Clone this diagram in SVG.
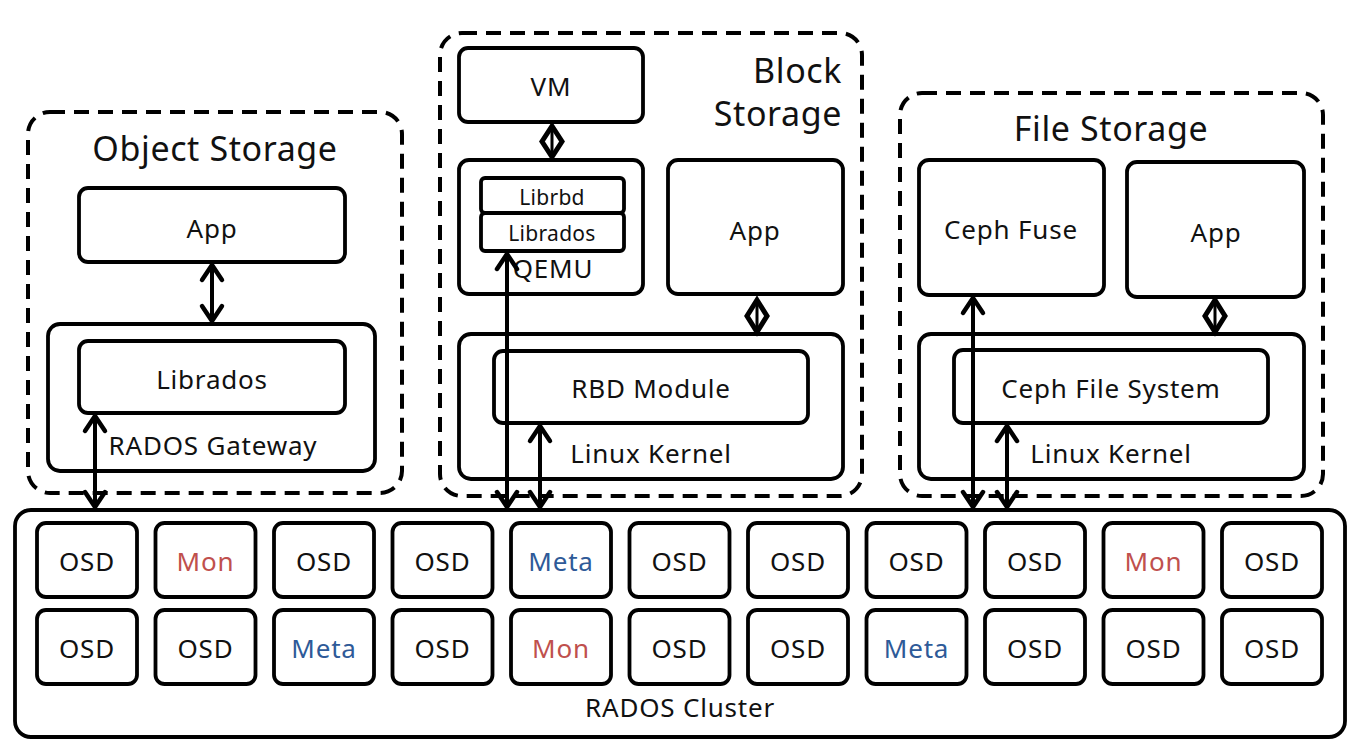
<svg xmlns="http://www.w3.org/2000/svg" width="1360" height="752" viewBox="0 0 1360 752">
<style>
.bg{fill:#ffffff}
.box{fill:#ffffff;stroke:#000;stroke-width:3.8}
.dash{fill:none;stroke:#000;stroke-width:4;stroke-dasharray:15 9}
.t{font-family:"Noto Sans","Open Sans",sans-serif;font-size:26px;letter-spacing:0.8px;fill:#111;text-anchor:middle;dominant-baseline:central}
.s{font-size:21px;letter-spacing:0.3px}
.h{font-size:34px;letter-spacing:0.6px}
.mon{fill:#c0504d}
.meta{fill:#2e5a98}
.ln{stroke:#000;stroke-width:4;fill:none}
.dm{fill:#fff;stroke:#000;stroke-width:5;stroke-linejoin:miter}
.dl{stroke:#000;stroke-width:3}
</style>
<defs>
<marker id="ah" markerUnits="userSpaceOnUse" markerWidth="40" markerHeight="40" refX="0" refY="0" viewBox="-20 -20 40 40" orient="auto-start-reverse" overflow="visible">
<path d="M -16 -10 L -1 0 L -16 10" fill="none" stroke="#000" stroke-width="4.5" stroke-linecap="round" stroke-linejoin="round"/>
</marker>
</defs>
<rect class="bg" x="0" y="0" width="1360" height="752"/>

<g id="object-storage">
<rect class="dash" x="28" y="112" width="374" height="381" rx="22"/>
<text class="t h" x="215" y="148">Object Storage</text>
</g>
<g id="obj-app"><rect class="box" x="79" y="188" width="266" height="74" rx="9"/><text class="t" x="212" y="228">App</text></g>
<g id="rados-gateway"><rect class="box" x="48" y="324" width="327" height="147" rx="12"/><text class="t" x="213" y="445">RADOS Gateway</text></g>
<g id="obj-librados"><rect class="box" x="79" y="341" width="266" height="72" rx="9"/><text class="t" x="212" y="379">Librados</text></g>

<g id="block-storage">
<rect class="dash" x="440" y="33" width="422" height="463" rx="22"/>
<text class="t h" x="842" y="70" style="text-anchor:end">Block</text>
<text class="t h" x="842" y="113" style="text-anchor:end">Storage</text>
</g>
<g id="vm"><rect class="box" x="459" y="48" width="184" height="74" rx="9"/><text class="t" x="551" y="86">VM</text></g>
<g id="qemu"><rect class="box" x="459" y="160" width="184" height="134" rx="10"/><text class="t" x="553" y="268">QEMU</text></g>
<g id="librbd"><rect class="box" x="481" y="178" width="143" height="35" rx="4"/><text class="t s" x="552" y="197">Librbd</text></g>
<g id="blk-librados"><rect class="box" x="481" y="213" width="143" height="38" rx="4"/><text class="t s" x="552" y="233">Librados</text></g>
<g id="blk-app"><rect class="box" x="668" y="160" width="175" height="134" rx="10"/><text class="t" x="755" y="230">App</text></g>
<g id="blk-kernel"><rect class="box" x="459" y="334" width="384" height="145" rx="12"/><text class="t" x="651" y="453">Linux Kernel</text></g>
<g id="rbd-module"><rect class="box" x="494" y="351" width="314" height="72" rx="9"/><text class="t" x="651" y="388">RBD Module</text></g>

<g id="file-storage">
<rect class="dash" x="900" y="93" width="423" height="403" rx="22"/>
<text class="t h" x="1111" y="128">File Storage</text>
</g>
<g id="ceph-fuse"><rect class="box" x="919" y="160" width="185" height="135" rx="10"/><text class="t" x="1011" y="229">Ceph Fuse</text></g>
<g id="file-app"><rect class="box" x="1127" y="162" width="177" height="135" rx="10"/><text class="t" x="1216" y="232">App</text></g>
<g id="file-kernel"><rect class="box" x="919" y="334" width="385" height="145" rx="12"/><text class="t" x="1111" y="453">Linux Kernel</text></g>
<g id="ceph-fs"><rect class="box" x="954" y="350" width="314" height="73" rx="9"/><text class="t" x="1111" y="388">Ceph File System</text></g>

<g id="rados-cluster">
<rect class="box" x="15" y="510" width="1330" height="227" rx="16"/>
<text class="t" x="680" y="707">RADOS Cluster</text>
</g>
<g id="osd-r1">
<g id="n1-1"><rect class="box" x="37" y="523" width="100" height="74" rx="9"/><text class="t" x="87" y="561">OSD</text></g>
<g id="n1-2"><rect class="box" x="155.5" y="523" width="100" height="74" rx="9"/><text class="t mon" x="205.5" y="561">Mon</text></g>
<g id="n1-3"><rect class="box" x="274" y="523" width="100" height="74" rx="9"/><text class="t" x="324" y="561">OSD</text></g>
<g id="n1-4"><rect class="box" x="392.5" y="523" width="100" height="74" rx="9"/><text class="t" x="442.5" y="561">OSD</text></g>
<g id="n1-5"><rect class="box" x="511" y="523" width="100" height="74" rx="9"/><text class="t meta" x="561" y="561">Meta</text></g>
<g id="n1-6"><rect class="box" x="629.5" y="523" width="100" height="74" rx="9"/><text class="t" x="679.5" y="561">OSD</text></g>
<g id="n1-7"><rect class="box" x="748" y="523" width="100" height="74" rx="9"/><text class="t" x="798" y="561">OSD</text></g>
<g id="n1-8"><rect class="box" x="866.5" y="523" width="100" height="74" rx="9"/><text class="t" x="916.5" y="561">OSD</text></g>
<g id="n1-9"><rect class="box" x="985" y="523" width="100" height="74" rx="9"/><text class="t" x="1035" y="561">OSD</text></g>
<g id="n1-10"><rect class="box" x="1103.5" y="523" width="100" height="74" rx="9"/><text class="t mon" x="1153.5" y="561">Mon</text></g>
<g id="n1-11"><rect class="box" x="1222" y="523" width="100" height="74" rx="9"/><text class="t" x="1272" y="561">OSD</text></g>
</g>
<g id="osd-r2">
<g id="n2-1"><rect class="box" x="37" y="610" width="100" height="74" rx="9"/><text class="t" x="87" y="648">OSD</text></g>
<g id="n2-2"><rect class="box" x="155.5" y="610" width="100" height="74" rx="9"/><text class="t" x="205.5" y="648">OSD</text></g>
<g id="n2-3"><rect class="box" x="274" y="610" width="100" height="74" rx="9"/><text class="t meta" x="324" y="648">Meta</text></g>
<g id="n2-4"><rect class="box" x="392.5" y="610" width="100" height="74" rx="9"/><text class="t" x="442.5" y="648">OSD</text></g>
<g id="n2-5"><rect class="box" x="511" y="610" width="100" height="74" rx="9"/><text class="t mon" x="561" y="648">Mon</text></g>
<g id="n2-6"><rect class="box" x="629.5" y="610" width="100" height="74" rx="9"/><text class="t" x="679.5" y="648">OSD</text></g>
<g id="n2-7"><rect class="box" x="748" y="610" width="100" height="74" rx="9"/><text class="t" x="798" y="648">OSD</text></g>
<g id="n2-8"><rect class="box" x="866.5" y="610" width="100" height="74" rx="9"/><text class="t meta" x="916.5" y="648">Meta</text></g>
<g id="n2-9"><rect class="box" x="985" y="610" width="100" height="74" rx="9"/><text class="t" x="1035" y="648">OSD</text></g>
<g id="n2-10"><rect class="box" x="1103.5" y="610" width="100" height="74" rx="9"/><text class="t" x="1153.5" y="648">OSD</text></g>
<g id="n2-11"><rect class="box" x="1222" y="610" width="100" height="74" rx="9"/><text class="t" x="1272" y="648">OSD</text></g>
</g>

<g id="connectors">
<line class="ln" x1="212" y1="264" x2="212" y2="322" marker-start="url(#ah)" marker-end="url(#ah)"/>
<line class="ln" x1="95" y1="415" x2="95" y2="508" marker-start="url(#ah)" marker-end="url(#ah)"/>
<line class="ln" x1="507" y1="253" x2="507" y2="508" marker-start="url(#ah)" marker-end="url(#ah)"/>
<line class="ln" x1="540" y1="425" x2="540" y2="508" marker-start="url(#ah)" marker-end="url(#ah)"/>
<line class="ln" x1="973" y1="297" x2="973" y2="508" marker-start="url(#ah)" marker-end="url(#ah)"/>
<line class="ln" x1="1007" y1="425" x2="1007" y2="508" marker-start="url(#ah)" marker-end="url(#ah)"/>
<polygon class="dm" points="552,126 562,141.5 552,157 542,141.5"/>
<line class="dl" x1="552" y1="128" x2="552" y2="155"/>
<polygon class="dm" points="757,300 767,316 757,332 747,316"/>
<line class="dl" x1="757" y1="302" x2="757" y2="330"/>
<polygon class="dm" points="1215,300 1225,316 1215,332 1205,316"/>
<line class="dl" x1="1215" y1="302" x2="1215" y2="330"/>
</g>
</svg>
